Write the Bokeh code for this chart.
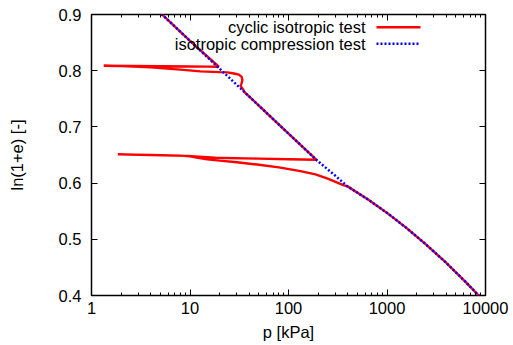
from bokeh.plotting import figure
from bokeh.models import (LogAxis, LinearAxis, FixedTicker, Range1d, Label, Arrow)
from bokeh.embed import file_html
from bokeh.resources import INLINE

# ---- data ----
# isotropic compression test
iso_p = [4.8, 5.2, 10, 20, 33, 50, 100, 195, 288, 394, 631, 1000, 1585, 2512, 3981, 6310, 8530, 10000]
iso_e = [0.9057, 0.900, 0.8531, 0.8035, 0.7676, 0.7378, 0.6881, 0.6403, 0.6155, 0.5946,
         0.5717, 0.5470, 0.5198, 0.4902, 0.4583, 0.4238, 0.400, 0.387]

# cyclic isotropic test (loading - unloading - reloading path)
cyc_p = [4.8, 5.2, 10, 19.6,
         15, 10, 5, 2.5, 1.33,
         2, 4, 8, 12.8, 20, 24, 28, 31.3, 33.5, 34, 33.3, 32.6, 34,
         36, 50, 100, 195,
         188, 100, 50, 18, 9.4, 4, 1.85,
         4, 8, 10, 12, 15, 20, 30, 48, 80, 132, 188, 250, 288, 365,
         394, 631, 1000, 1585, 2512, 3981, 6310, 8530, 10000]
cyc_e = [0.9057, 0.900, 0.8531, 0.807,
         0.8072, 0.8075, 0.808, 0.8085, 0.8088,
         0.8082, 0.806, 0.802, 0.7988, 0.7975, 0.797, 0.795, 0.793, 0.789, 0.783, 0.777, 0.773, 0.7685,
         0.7614, 0.7378, 0.6881, 0.6403,
         0.6416, 0.6425, 0.6435, 0.645, 0.6485, 0.6500, 0.6512,
         0.6502, 0.6488, 0.6475, 0.6450, 0.6423, 0.6400, 0.6370, 0.6330, 0.6280, 0.6214, 0.6155,
         0.6080, 0.6036, 0.5960,
         0.5946, 0.5717, 0.5470, 0.5198, 0.4902, 0.4583, 0.4238, 0.400, 0.387]

x_ticks = [1, 10, 100, 1000, 10000]
x_tick_labels = ["1", "10", "100", "1000", "10000"]
y_ticks = [0.4, 0.5, 0.6, 0.7, 0.8, 0.9]
y_tick_labels = ["0.4", "0.5", "0.6", "0.7", "0.8", "0.9"]
series_names = ["cyclic isotropic test", "isotropic compression test"]

FONT = "Liberation Sans"
FS = "16.5px"
RED = "#ff0000"
BLUE = "#0000ff"

x_minor = [m * 10 ** k for k in range(4) for m in range(2, 10)]

p = figure(width=513, height=345, x_axis_type="log", y_axis_type="linear",
           x_range=Range1d(1, 10000), y_range=Range1d(0.4, 0.9),
           output_backend="svg", toolbar_location=None,
           min_border_left=91, min_border_right=28, min_border_top=14, min_border_bottom=50)
p.background_fill_color = "white"
p.border_fill_color = "white"
p.outline_line_color = "black"
p.outline_line_width = 1.5
p.xgrid.visible = False
p.ygrid.visible = False

def style_axis(ax):
    ax.axis_line_color = None
    ax.major_tick_in = 6
    ax.major_tick_out = 0
    ax.minor_tick_in = 3
    ax.minor_tick_out = 0
    ax.major_tick_line_color = "black"
    ax.minor_tick_line_color = "black"
    ax.major_label_text_font = FONT
    ax.major_label_text_font_size = FS
    ax.major_label_text_color = "black"
    ax.axis_label_text_font = FONT
    ax.axis_label_text_font_size = FS
    ax.axis_label_text_font_style = "normal"
    ax.axis_label_text_color = "black"

xt = FixedTicker(ticks=x_ticks, minor_ticks=x_minor)
yt = FixedTicker(ticks=y_ticks, minor_ticks=[])

xa = p.xaxis[0]
xa.ticker = xt
xa.major_label_overrides = {float(t): l for t, l in zip(x_ticks, x_tick_labels)}
style_axis(xa)
xa.axis_label = "p [kPa]"
xa.major_label_standoff = 6
xa.axis_label_standoff = 6

ya = p.yaxis[0]
ya.ticker = yt
ya.major_label_overrides = {t: l for t, l in zip(y_ticks, y_tick_labels)}
style_axis(ya)
ya.axis_label = "ln(1+e) [-]"
ya.major_label_standoff = 10
ya.axis_label_standoff = 30

top = LogAxis(ticker=FixedTicker(ticks=x_ticks, minor_ticks=x_minor))
style_axis(top)
top.major_label_text_font_size = "1px"
top.major_label_text_color = None
top.major_label_standoff = 0
p.add_layout(top, "above")

right = LinearAxis(ticker=FixedTicker(ticks=y_ticks, minor_ticks=[]))
style_axis(right)
right.major_label_text_font_size = "1px"
right.major_label_text_color = None
right.major_label_standoff = 0
p.add_layout(right, "right")

p.line(cyc_p, cyc_e, line_color=RED, line_width=2.4)
p.line(iso_p, iso_e, line_color=BLUE, line_width=2.5, line_dash="2 2")

# legend (text right of which the line sample is drawn, as in the reference)
rows = [(268.3, RED, "solid", 2.4), (251.7, BLUE, "2 2", 2.5)]
for (yy, col, dash, lw), name in zip(rows, series_names):
    p.add_layout(Label(x=274, y=yy, x_units="screen", y_units="screen", text=name,
                       text_align="right", text_baseline="middle", text_font=FONT,
                       text_font_size=FS, text_color="black"))
    p.add_layout(Arrow(end=None, x_start=285, y_start=yy, x_end=329, y_end=yy,
                       start_units="screen", end_units="screen",
                       line_color=col, line_width=lw, line_dash=dash))

open("out.html", "w").write(file_html(p, INLINE))
